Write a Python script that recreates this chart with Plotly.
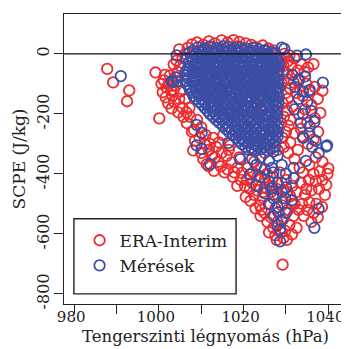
import plotly.graph_objects as go

# ---------------- data ----------------
# ERA-Interim: (sea-level pressure hPa, SCPE J/kg)
era_interim = [
    (987.8, -50), (989.2, -95), (993.0, -122), (992.5, -158), (999.2, -62), (1000.1, -215),
    (1001.2, -88), (1000.6, -100), (1001.8, -112), (1000.9, -128), (1002.4, -98), (1002.9, -122),
    (1001.6, -145), (1003.2, -140), (1002.2, -165), (1003.6, -160), (1004.0, -105), (1003.8, -78),
    (1004.5, -60), (1002.6, -72), (1005.0, -40), (1004.2, -22), (1005.6, -180), (1004.6, -195),
    (1006.2, -150), (1005.2, -125), (1003.0, -182), (1001.4, -70),
    (1004.8, 15), (1006.3, 0), (1003.5, -35), (1006.8, 20), (1007.8, 32), (1005.6, -12),
    (1009.0, 38), (1010.5, 30), (1011.8, 42), (1013.2, 35), (1014.8, 45), (1016.2, 38),
    (1017.6, 46), (1019.0, 40), (1020.5, 35), (1021.8, 30), (1023.0, 22), (1024.5, 28),
    (1025.8, 18), (1027.0, 12), (1012.4, 20), (1018.5, 25),
    (1027.5, -5), (1028.8, -20), (1029.6, 0), (1030.4, -25), (1031.2, -40), (1032.0, -15),
    (1032.8, -55), (1031.5, -70), (1033.6, -35), (1034.4, -60), (1035.2, -45), (1036.5, -34),
    (1033.0, -90), (1034.8, -100), (1029.5, -60), (1030.5, -85), (1028.0, -45),
    (1031.0, -115), (1032.5, -130), (1034.0, -140), (1035.5, -125), (1036.8, -110), (1038.6, -123),
    (1037.5, -150), (1036.0, -170), (1034.5, -185), (1033.0, -200), (1031.5, -175), (1030.4, -150),
    (1038.1, -197), (1036.8, -215), (1035.0, -230), (1033.5, -250), (1032.0, -265), (1030.6, -240),
    (1029.5, -210), (1036.5, -286), (1035.2, -300), (1034.0, -275), (1037.6, -260), (1031.0, -295),
    (1029.2, -280), (1032.8, -320),
    (1040.0, -382), (1038.6, -360), (1037.0, -345), (1035.5, -370), (1034.0, -395), (1036.5, -400),
    (1038.0, -392), (1039.8, -400), (1037.0, -425), (1038.6, -420), (1036.0, -455), (1037.8, -450),
    (1039.5, -437), (1039.2, -470), (1035.5, -495), (1037.2, -500), (1038.5, -510), (1036.5, -530),
    (1034.5, -470), (1033.5, -430), (1035.0, -520), (1037.5, -545), (1036.0, -560), (1034.2, -540),
    (1006.6, -231), (1007.8, -259), (1008.3, -254), (1008.1, -322), (1008.5, -290), (1009.6, -280),
    (1010.5, -351), (1011.3, -368), (1011.7, -374), (1010.0, -330), (1012.5, -340), (1013.5, -310),
    (1012.0, -300), (1014.8, -330), (1015.2, -271), (1016.8, -305), (1017.2, -362), (1018.5, -380),
    (1019.6, -397), (1020.8, -419), (1020.5, -477), (1021.5, -450), (1022.5, -470), (1023.9, -505),
    (1022.0, -430), (1019.0, -345), (1016.0, -340), (1014.0, -360), (1013.0, -390), (1015.5, -395),
    (1017.5, -410), (1018.5, -440),
    (1022.5, -360), (1024.0, -380), (1025.5, -400), (1027.0, -410), (1028.5, -395), (1030.0, -420),
    (1031.5, -440), (1032.5, -460), (1023.5, -420), (1025.0, -445), (1026.5, -460), (1028.0, -470),
    (1029.5, -455), (1031.0, -475), (1032.0, -500), (1024.5, -480), (1026.0, -500), (1027.5, -515),
    (1029.0, -505), (1030.5, -520), (1031.8, -540), (1025.0, -530), (1026.5, -545), (1028.0, -560),
    (1029.4, -550), (1030.8, -570), (1027.0, -580), (1028.8, -595), (1031.4, -602), (1029.4, -614),
    (1027.5, -605), (1029.2, -703), (1024.0, -540), (1033.0, -520), (1032.5, -580),
    (1010.8, -300), (1011.8, -320), (1013.2, -345), (1014.6, -375), (1016.2, -385), (1017.8, -395),
    (1019.3, -420), (1020.3, -440), (1021.6, -490), (1022.8, -515), (1024.2, -520), (1025.6, -560),
    (1023.2, -455), (1024.6, -460), (1021.0, -380), (1022.2, -395), (1023.4, -405), (1025.0, -420),
    (1026.2, -440), (1027.8, -450), (1029.0, -430), (1030.2, -460), (1031.4, -500), (1029.8, -590),
    (1030.2, -620), (1027.8, -620), (1026.0, -595), (1033.8, -500), (1034.8, -450), (1035.4, -420),
    (1033.2, -380), (1032.0, -350), (1030.5, -330), (1016.5, -320), (1014.2, -295), (1012.8, -280),
    (1011.0, -270), (1010.0, -245), (1009.0, -220), (1007.4, -210), (1006.5, -195), (1005.8, -210),
    (1007.2, -180), (1004.8, -150), (1003.5, -120),
    (1029.0, -100), (1030.0, -130), (1029.2, -165), (1030.2, -190), (1028.8, -230), (1030.0, -260),
    (1029.5, -310), (1031.0, -220), (1030.8, -5), (1029.4, -40), (1030.2, -65), (1031.8, -95),
    (1008, -20), (1011, -5), (1014, -30), (1017, -10), (1020, -25), (1023, -5), (1026, -30),
    (1009, -60), (1012, -75), (1015, -50), (1018, -70), (1021, -55), (1024, -80), (1027, -65),
    (1010, -110), (1013, -95), (1016, -120), (1019, -105), (1022, -125), (1025, -100), (1028, -115),
    (1012, -160), (1015, -145), (1018, -170), (1021, -150), (1024, -175), (1027, -155),
    (1014, -210), (1017, -195), (1020, -220), (1023, -200), (1026, -225), (1028, -190),
    (1018, -255), (1021, -240), (1024, -265), (1027, -250), (1020, -290), (1023, -300),
    (1026, -285), (1028, -320), (1025, -330), (1022, -320),
]

# Mérések (observations)
meresek = [
    (991.0, -74), (1004.2, -5), (1003.0, -91), (1004.4, -91), (1003.4, -94), (1004.2, -78),
    (1008.9, -237), (1010.1, -263), (1008.9, -305), (1010.1, -317), (1012.1, -368), (1016.4, -297),
    (1019.2, -351), (1021.5, -402), (1026.7, -448), (1027.1, -482), (1029.8, -482), (1031.4, -488),
    (1028.2, -528), (1028.6, -585), (1028.6, -625), (1037.7, -517), (1036.7, -580), (1031.8, -414),
    (1026.7, -380), (1031.8, -380), (1029.6, 17), (1032.6, -6), (1034.7, -2), (1038.7, -96),
    (1039.7, -305), (1036.7, -227), (1035.6, -242), (1039.5, -309), (1037.7, -331), (1034.7, -357),
    (1015.2, 26), (1029.0, 21),
    (1031.5, -70), (1033.0, -85), (1034.5, -75), (1032.2, -110), (1034.0, -125), (1035.6, -120),
    (1033.0, -150), (1035.0, -160), (1032.0, -185), (1034.0, -200), (1036.0, -190), (1033.5, -230),
    (1035.5, -265), (1034.0, -280), (1037.0, -290), (1036.2, -310),
    (1022, -350), (1024, -345), (1026, -355), (1028, -340), (1023, -370), (1025, -385),
    (1027, -395), (1029, -370), (1030, -400), (1024, -410), (1026, -425), (1028, -430),
    (1030, -445), (1023, -440), (1025, -465), (1027, -470), (1029, -460), (1026, -500),
    (1028, -510), (1027, -540), (1029, -555), (1028, -570), (1030, -530),
    (1009.2, 22), (1010.7, 18), (1012.1, 25), (1013.6, 20), (1015.0, 16), (1016.4, 24),
    (1017.9, 19), (1019.3, 22), (1020.8, 17), (1022.2, 21), (1023.6, 15), (1025.0, 12),
    (1008.0, 11), (1009.5, 8), (1010.9, 13), (1012.4, 9), (1013.8, 12), (1015.3, 7), (1016.7, 11),
    (1018.2, 9), (1019.6, 13), (1021.1, 8), (1022.5, 10), (1024.0, 7), (1025.4, 9), (1026.6, 6),
    (1007.2, 4), (1008.6, -2), (1010.1, 6), (1011.5, 0), (1013.0, 3), (1014.4, -4), (1015.9, 5),
    (1017.3, -1), (1018.8, 2), (1020.2, -3), (1021.7, 4), (1023.1, -2), (1024.6, 1), (1026.0, -4),
    (1027.3, 2),
    (1007.6, -9), (1009.0, -12), (1010.5, -8), (1011.9, -11), (1013.4, -13), (1014.8, -7),
    (1016.3, -10), (1017.7, -12), (1019.2, -8), (1020.6, -11), (1022.1, -9), (1023.5, -13),
    (1025.0, -8), (1026.4, -10), (1027.8, -12),
    (1006.5, -18), (1007.9, -23), (1009.4, -16), (1010.8, -22), (1012.3, -19), (1013.7, -24),
    (1015.2, -17), (1016.6, -21), (1018.1, -18), (1019.5, -23), (1021.0, -16), (1022.4, -20),
    (1023.9, -24), (1025.3, -17), (1026.8, -22), (1028.0, -19),
    (1007.0, -30), (1008.4, -33), (1009.9, -29), (1011.3, -31), (1012.8, -34), (1014.2, -28),
    (1015.7, -32), (1017.1, -30), (1018.6, -33), (1020.0, -29), (1021.5, -31), (1022.9, -34),
    (1024.4, -28), (1025.8, -32), (1027.2, -30), (1028.4, -33),
    (1007.1, -40), (1008.6, -44), (1010.0, -38), (1011.5, -42), (1012.9, -45), (1014.4, -39),
    (1015.8, -43), (1017.3, -37), (1018.7, -41), (1020.2, -45), (1021.6, -39), (1023.1, -42),
    (1024.5, -38), (1026.0, -44), (1027.4, -40),
    (1006.8, -50), (1008.2, -53), (1009.7, -49), (1011.1, -51), (1012.6, -54), (1014.0, -48),
    (1015.5, -52), (1016.9, -50), (1018.4, -53), (1019.8, -49), (1021.3, -51), (1022.7, -54),
    (1024.2, -48), (1025.6, -52), (1027.0, -50), (1028.3, -53),
    (1006.4, -58), (1007.9, -63), (1009.3, -60), (1010.8, -57), (1012.2, -62), (1013.7, -59),
    (1015.1, -64), (1016.6, -58), (1018.0, -61), (1019.5, -65), (1020.9, -57), (1022.4, -62),
    (1023.8, -59), (1025.3, -63), (1026.7, -58), (1028.1, -61),
    (1006.7, -70), (1008.1, -73), (1009.6, -69), (1011.0, -71), (1012.5, -74), (1013.9, -68),
    (1015.4, -72), (1016.8, -70), (1018.3, -73), (1019.7, -69), (1021.2, -71), (1022.6, -74),
    (1024.1, -68), (1025.5, -72), (1026.9, -70), (1028.3, -73),
    (1007.0, -80), (1008.5, -84), (1009.9, -78), (1011.4, -82), (1012.8, -86), (1014.3, -79),
    (1015.7, -83), (1017.2, -77), (1018.6, -81), (1020.1, -85), (1021.5, -79), (1023.0, -83),
    (1024.4, -78), (1025.9, -84), (1027.3, -80),
    (1006.4, -90), (1007.8, -93), (1009.3, -89), (1010.7, -91), (1012.2, -94), (1013.6, -88),
    (1015.1, -92), (1016.5, -90), (1018.0, -93), (1019.4, -89), (1020.9, -91), (1022.3, -94),
    (1023.8, -88), (1025.2, -92), (1026.6, -90), (1028.0, -93),
    (1006.6, -101), (1008.0, -97), (1009.5, -103), (1010.9, -99), (1012.4, -104), (1013.8, -98),
    (1015.3, -102), (1016.7, -96), (1018.2, -100), (1019.6, -105), (1021.1, -99), (1022.5, -103),
    (1024.0, -97), (1025.4, -101), (1026.9, -104), (1028.2, -99),
    (1007.1, -110), (1008.5, -113), (1010.0, -109), (1011.4, -111), (1012.9, -114), (1014.3, -108),
    (1015.8, -112), (1017.2, -110), (1018.7, -113), (1020.1, -109), (1021.6, -111), (1023.0, -114),
    (1024.5, -108), (1025.9, -112), (1027.3, -110), (1028.4, -113),
    (1007.3, -120), (1008.8, -124), (1010.2, -118), (1011.7, -122), (1013.1, -126), (1014.6, -119),
    (1016.0, -123), (1017.5, -117), (1018.9, -121), (1020.4, -125), (1021.8, -119), (1023.3, -123),
    (1024.7, -118), (1026.2, -124), (1027.6, -120),
    (1007.8, -130), (1009.2, -133), (1010.7, -129), (1012.1, -131), (1013.6, -134), (1015.0, -128),
    (1016.5, -132), (1017.9, -130), (1019.4, -133), (1020.8, -129), (1022.3, -131), (1023.7, -134),
    (1025.2, -128), (1026.6, -132), (1028.0, -130),
    (1008.2, -141), (1009.6, -137), (1011.1, -143), (1012.5, -139), (1014.0, -144), (1015.4, -138),
    (1016.9, -142), (1018.3, -136), (1019.8, -140), (1021.2, -145), (1022.7, -139), (1024.1, -143),
    (1025.6, -137), (1027.0, -141), (1028.3, -144),
    (1008.8, -150), (1010.2, -153), (1011.7, -149), (1013.1, -151), (1014.6, -154), (1016.0, -148),
    (1017.5, -152), (1018.9, -150), (1020.4, -153), (1021.8, -149), (1023.3, -151), (1024.7, -154),
    (1026.2, -148), (1027.6, -152),
    (1009.5, -160), (1011.0, -164), (1012.4, -158), (1013.9, -162), (1015.3, -166), (1016.8, -159),
    (1018.2, -163), (1019.7, -157), (1021.1, -161), (1022.6, -165), (1024.0, -159), (1025.5, -163),
    (1026.9, -158), (1028.2, -162),
    (1010.2, -170), (1011.6, -173), (1013.1, -169), (1014.5, -171), (1016.0, -174), (1017.4, -168),
    (1018.9, -172), (1020.3, -170), (1021.8, -173), (1023.2, -169), (1024.7, -171), (1026.1, -174),
    (1027.5, -168),
    (1010.9, -181), (1012.3, -177), (1013.8, -183), (1015.2, -179), (1016.7, -184), (1018.1, -178),
    (1019.6, -182), (1021.0, -176), (1022.5, -180), (1023.9, -185), (1025.4, -179), (1026.8, -183),
    (1028.0, -177),
    (1011.5, -190), (1012.9, -193), (1014.4, -189), (1015.8, -191), (1017.3, -194), (1018.7, -188),
    (1020.2, -192), (1021.6, -190), (1023.1, -193), (1024.5, -189), (1026.0, -191), (1027.4, -194),
    (1012.0, -200), (1013.5, -204), (1014.9, -198), (1016.4, -202), (1017.8, -206), (1019.3, -199),
    (1020.7, -203), (1022.2, -197), (1023.6, -201), (1025.1, -205), (1026.5, -199), (1027.9, -203),
    (1012.8, -210), (1014.2, -213), (1015.7, -209), (1017.1, -211), (1018.6, -214), (1020.0, -208),
    (1021.5, -212), (1022.9, -210), (1024.4, -213), (1025.8, -209), (1027.2, -211),
    (1013.6, -221), (1015.0, -217), (1016.5, -223), (1017.9, -219), (1019.4, -224), (1020.8, -218),
    (1022.3, -222), (1023.7, -216), (1025.2, -220), (1026.6, -225), (1028.0, -219),
    (1014.3, -230), (1015.7, -233), (1017.2, -229), (1018.6, -231), (1020.1, -234), (1021.5, -228),
    (1023.0, -232), (1024.4, -230), (1025.9, -233), (1027.3, -229),
    (1015.1, -240), (1016.6, -244), (1018.0, -238), (1019.5, -242), (1020.9, -246), (1022.4, -239),
    (1023.8, -243), (1025.3, -237), (1026.7, -241), (1028.0, -245),
    (1015.8, -250), (1017.2, -253), (1018.7, -249), (1020.1, -251), (1021.6, -254), (1023.0, -248),
    (1024.5, -252), (1025.9, -250), (1027.3, -253),
    (1016.6, -261), (1018.1, -257), (1019.5, -263), (1021.0, -259), (1022.4, -264), (1023.9, -258),
    (1025.3, -262), (1026.8, -256), (1028.1, -260),
    (1017.4, -270), (1018.8, -273), (1020.3, -269), (1021.7, -271), (1023.2, -274), (1024.6, -268),
    (1026.1, -272), (1027.5, -270),
    (1018.2, -280), (1019.7, -284), (1021.1, -278), (1022.6, -282), (1024.0, -286), (1025.5, -279),
    (1026.9, -283), (1028.0, -277),
    (1018.9, -290), (1020.3, -293), (1021.8, -289), (1023.2, -291), (1024.7, -294), (1026.1, -288),
    (1027.5, -292),
    (1019.6, -301), (1021.1, -297), (1022.5, -303), (1024.0, -299), (1025.4, -304), (1026.9, -298),
    (1020.4, -310), (1021.8, -313), (1023.3, -309), (1024.7, -311), (1026.2, -314), (1027.4, -310),
    (1021.2, -320), (1022.7, -324), (1024.1, -318), (1025.6, -322), (1027.0, -326),
]

x_tick_values = [980, 990, 1000, 1010, 1020, 1030, 1040]
x_tick_labels = ["980", "", "1000", "", "1020", "", "1040"]
y_tick_values = [0, -200, -400, -600, -800]
y_tick_labels = ["0", "-200", "-400", "-600", "-800"]

era_p = [p for p, s in era_interim]
era_s = [s for p, s in era_interim]
mer_p = [p for p, s in meresek]
mer_s = [s for p, s in meresek]

RED = "#EE2A2C"
BLUE = "#3B4EA6"
FONT = "DejaVu Serif"
INK = "#222222"

fig = go.Figure()
fig.add_trace(go.Scatter(
    x=era_p, y=era_s, mode="markers", name="ERA-Interim",
    marker=dict(symbol="circle-open", size=10.5, color=RED, line=dict(width=1.8, color=RED)),
))
fig.add_trace(go.Scatter(
    x=mer_p, y=mer_s, mode="markers", name="Mérések",
    marker=dict(symbol="circle-open", size=10.5, color=BLUE, line=dict(width=1.8, color=BLUE)),
))

# the page body has an 8 px margin, so the figure is sized to end at the window edge
fig.update_layout(
    width=341, height=341,
    margin=dict(l=56, r=2, t=6, b=45),
    paper_bgcolor="white", plot_bgcolor="white",
    font=dict(family=FONT, size=16, color=INK),
    showlegend=True,
    legend=dict(
        x=0.055, y=0.07, xanchor="left", yanchor="bottom",
        bgcolor="rgba(0,0,0,0)", borderwidth=0,
        font=dict(family=FONT, size=17, color=INK),
        itemwidth=30, tracegroupgap=0,
    ),
    shapes=[
        dict(type="rect", xref="paper", yref="paper", x0=0.035, x1=0.608, y0=0.035, y1=0.294,
             line=dict(color=INK, width=1.4), fillcolor="white", layer="below"),
        dict(type="line", xref="paper", yref="y", x0=0, x1=1, y0=0, y1=0,
             line=dict(color="#111111", width=1.4), layer="above"),
    ],
)
fig.update_xaxes(
    range=[977.6, 1044.4], tickvals=x_tick_values, ticktext=x_tick_labels, automargin=False,
    showgrid=False, zeroline=False, showline=True, mirror=True, linecolor=INK, linewidth=1.4,
    ticks="outside", ticklen=9, tickwidth=1.2, tickcolor=INK, ticklabelstandoff=-10,
    ticklabelshift=-3,
    tickfont=dict(family=FONT, size=15, color=INK),
    title=dict(text="Tengerszinti légnyomás (hPa)", font=dict(family=FONT, size=16.5, color=INK), standoff=5),
)
fig.update_yaxes(
    range=[-834, 133], tickvals=y_tick_values, ticktext=y_tick_labels, tickangle=-90, automargin=False,
    showgrid=False, zeroline=False, showline=True, mirror=True, linecolor=INK, linewidth=1.4,
    ticks="outside", ticklen=9, tickwidth=1.2, tickcolor=INK, ticklabelstandoff=-2,
    tickfont=dict(family=FONT, size=16, color=INK),
    title=dict(text="SCPE (J/kg)", font=dict(family=FONT, size=17, color=INK), standoff=4),
)

fig.write_html("out.html")
